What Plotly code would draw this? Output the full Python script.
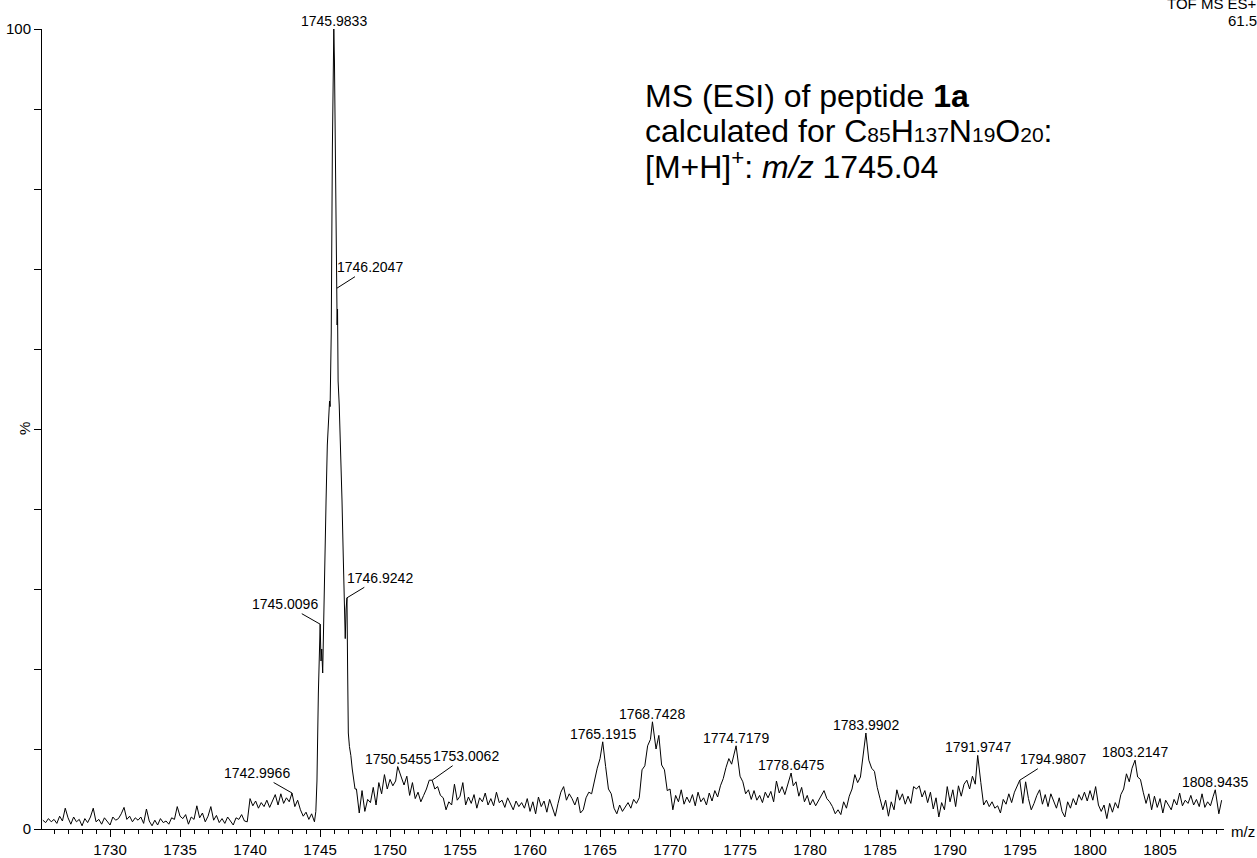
import plotly.graph_objects as go

# ---------------------------------------------------------------------------
# Spectrum data (relative intensity, %)
# ---------------------------------------------------------------------------
MZ_STEP = 0.2

# profile sampled every 0.2 m/z from 1725.2 to 1744.6
LOW_START = 1725.2
INT_LOW = [
    1.1, 0.8, 1.3, 0.9, 1.2, 0.7, 1.6, 1.0, 2.6, 1.4, 0.6, 1.5, 0.9, 1.2, 0.4, 1.3, 0.8, 1.5, 2.6, 0.9,
    1.2, 0.6, 1.4, 1.0, 0.5, 1.5, 1.1, 1.3, 1.9, 2.7, 1.2, 1.6, 0.9, 1.4, 1.1, 1.5, 0.7, 2.5, 1.0, 0.4,
    1.1, 0.5, 1.3, 0.8, 1.0, 0.6, 1.4, 1.2, 2.8, 1.6, 1.3, 1.8, 0.6, 1.5, 1.2, 2.9, 1.4, 2.0, 0.9, 1.6,
    2.8, 1.1, 1.7, 0.8, 1.3, 0.7, 1.5, 1.0, 0.5, 1.4, 1.2, 1.8, 1.0, 0.9, 3.8, 2.9, 3.5, 2.6, 3.3, 2.8,
    3.6, 2.7, 3.4, 4.3, 3.0, 4.4, 3.2, 3.9, 3.4, 4.6, 2.8, 3.6, 2.4, 1.6, 2.1, 1.2, 1.9, 0.9,
]

# main isotope cluster, sampled more finely
MAIN_MZ = [
    1744.70, 1744.78, 1744.88, 1744.96, 1745.07, 1745.12, 1745.19, 1745.25, 1745.33,
    1745.43, 1745.52, 1745.62, 1745.68, 1745.72, 1745.80, 1745.88, 1745.94, 1746.03,
    1746.09, 1746.15, 1746.22, 1746.25, 1746.29, 1746.37, 1746.48, 1746.57, 1746.66,
    1746.74, 1746.80, 1746.86, 1746.97, 1747.02, 1747.10, 1747.20, 1747.30, 1747.40,
    1747.50,
]
MAIN_INT = [
    2.2, 6.0, 17.0, 23.5, 21.0, 22.5, 19.5, 26.0, 35.0,
    41.0, 48.0, 52.5, 53.5, 52.8, 62.0, 85.0, 98.0, 96.0,
    84.0, 72.0, 63.0, 65.0, 56.0, 53.0, 47.7, 41.0, 34.0,
    28.5, 23.8, 27.5, 20.0, 12.0, 10.3, 9.2, 7.5, 6.0,
    5.0,
]

# profile sampled every 0.2 m/z from 1747.6 to 1809.4
HIGH_START = 1747.6
INT_HIGH = [
    5.0, 2.0, 4.8, 2.2, 3.7, 3.3, 5.2, 3.0, 5.8, 4.4, 6.8, 5.0, 6.2, 5.4, 6.0, 5.0, 6.5, 5.5, 6.6, 4.2,
    5.8, 3.8, 4.6, 3.4, 4.2, 5.0, 6.1, 5.6, 5.0, 5.3, 4.2, 3.9, 2.4, 3.4, 3.0, 5.6, 3.6, 4.1, 5.8, 3.0,
    4.0, 3.2, 4.3, 2.6, 3.9, 3.4, 4.5, 3.0, 3.8, 2.9, 4.6, 3.3, 3.6, 2.7, 3.9, 3.1, 2.4, 3.5, 2.8, 3.3,
    2.6, 3.8, 2.2, 3.4, 1.9, 4.0, 2.8, 3.5, 2.1, 3.7, 2.5, 1.6, 3.2, 4.6, 5.3, 3.6, 4.4, 3.8, 3.0, 4.0,
    2.0, 2.4, 3.9, 4.6, 4.4, 6.2, 7.6, 8.8, 10.9, 7.8, 5.0, 4.4, 2.6, 1.9, 3.0, 2.2, 2.8, 3.3, 2.6, 3.7,
    3.2, 3.9, 7.4, 7.9, 10.4, 11.2, 13.5, 10.0, 11.7, 8.0, 7.4, 4.8, 5.0, 2.4, 4.2, 3.4, 4.9, 3.1, 4.0, 3.3,
    4.3, 2.9, 4.6, 3.4, 3.9, 3.0, 4.5, 3.5, 4.8, 4.0, 5.4, 6.3, 7.7, 8.8, 8.1, 9.6, 8.2, 6.6, 5.9, 4.4,
    4.9, 3.7, 4.8, 3.6, 4.2, 3.3, 4.6, 3.9, 4.7, 3.4, 6.0, 4.5, 5.3, 4.3, 5.6, 6.6, 5.4, 5.9, 4.1, 5.2,
    3.4, 4.2, 3.0, 3.7, 2.9, 3.6, 4.2, 4.8, 3.8, 3.4, 2.8, 1.9, 2.4, 1.8, 3.4, 2.6, 4.1, 5.0, 6.8, 5.8,
    6.5, 9.1, 11.0, 8.6, 7.6, 7.2, 5.2, 3.8, 2.4, 3.6, 1.6, 3.4, 2.4, 4.9, 3.6, 4.4, 3.1, 4.1, 3.2, 5.3,
    5.0, 5.4, 4.0, 4.8, 3.3, 4.6, 2.5, 3.9, 1.5, 3.3, 2.4, 5.3, 3.4, 4.9, 2.8, 5.4, 4.1, 5.6, 6.1, 5.0,
    6.6, 5.6, 8.2, 5.8, 3.0, 3.6, 2.8, 3.4, 2.6, 2.9, 2.0, 3.7, 3.1, 4.4, 3.3, 4.6, 5.5, 4.3, 3.2, 5.9,
    3.8, 2.4, 3.2, 4.2, 4.9, 3.1, 4.3, 2.8, 4.4, 3.4, 2.6, 3.9, 2.2, 1.5, 3.4, 2.6, 3.8, 3.0, 4.3, 3.6,
    4.6, 3.5, 4.8, 3.6, 5.3, 3.0, 2.2, 3.0, 1.3, 3.2, 2.1, 3.3, 2.6, 4.3, 5.0, 6.9, 5.9, 7.6, 8.0, 6.5,
    6.2, 4.6, 3.2, 4.4, 2.4, 4.1, 2.7, 3.8, 2.0, 3.6, 2.9, 2.4, 3.7, 3.0, 4.5, 2.9, 3.6, 3.2, 4.2, 3.0,
    3.7, 2.8, 4.4, 2.7, 3.4, 2.9, 4.1, 3.2, 1.9, 3.6,
]

# labelled centroids
PEAK_MZ = [1742.9966, 1745.0096, 1745.9833, 1746.2047, 1746.9242, 1750.5455, 1753.0062,
           1765.1915, 1768.7428, 1774.7179, 1778.6475, 1783.9902, 1791.9747, 1794.9807,
           1803.2147, 1808.9435]
PEAK_INT = [4.5, 25.6, 100.0, 67.6, 28.9, 7.8, 6.1,
            10.9, 13.4, 10.4, 7.0, 12.0, 9.2, 6.1,
            8.6, 4.9]
PEAK_LABELS = ["%.4f" % m for m in PEAK_MZ]

# label offsets (pixels) for labels drawn with a leader line
LEADER_OFFSETS = {
    1742.9966: (-35, -20),
    1745.0096: (-35, -20),
    1746.2047: (33, -21),
    1746.9242: (33, -20),
    1753.0062: (34, -24),
    1794.9807: (33, -21),
}

X_TICKS = list(range(1730, 1810, 5))
Y_TICKS = list(range(0, 101, 10))
Y_TICKTEXT = ["0"] + [""] * 9 + ["100"]

# ---------------------------------------------------------------------------
# Assemble the profile
# ---------------------------------------------------------------------------
pts = []
for i, v in enumerate(INT_LOW):
    pts.append((round(LOW_START + i * MZ_STEP, 4), v))
for m, v in zip(MAIN_MZ, MAIN_INT):
    pts.append((m, v))
for i, v in enumerate(INT_HIGH):
    pts.append((round(HIGH_START + i * MZ_STEP, 4), v))
# drop samples right next to a centroid, then add the centroids themselves
pts = [p for p in pts if all(abs(p[0] - m) >= 0.1 for m in PEAK_MZ if not 1744.7 < m < 1747.5)
       or 1744.7 <= p[0] <= 1747.5]
pts += list(zip(PEAK_MZ, PEAK_INT))
pts.sort()
mz = [p[0] for p in pts]
inten = [p[1] for p in pts]

# ---------------------------------------------------------------------------
# Figure
# ---------------------------------------------------------------------------
W, H = 1257, 858
ML, MR, MT, MB = 42, 33, 29, 29
PW, PH = W - ML - MR, H - MT - MB
X0 = 1725.14
X1 = X0 + PW / 14.0

SANS = "Liberation Sans, Arial, sans-serif"
LABEL_SIZE = 14
AXIS_SIZE = 15


def px_x(px):
    return (px - ML) / PW


def px_y(py):
    return (H - MB - py) / PH


fig = go.Figure()
fig.add_trace(go.Scatter(x=mz, y=inten, mode="lines",
                         line=dict(color="black", width=1), hoverinfo="skip"))

annotations = []
for m, v, t in zip(PEAK_MZ, PEAK_INT, PEAK_LABELS):
    if m in LEADER_OFFSETS:
        ax, ay = LEADER_OFFSETS[m]
        annotations.append(dict(x=m, y=v, text=t, showarrow=True, arrowhead=0,
                                arrowwidth=1, arrowcolor="black", ax=ax, ay=ay,
                                standoff=0, font=dict(family=SANS, size=LABEL_SIZE, color="black")))
    else:
        annotations.append(dict(x=m, y=v, text=t, showarrow=False, yanchor="bottom",
                                xanchor="center", yshift=-2,
                                font=dict(family=SANS, size=LABEL_SIZE, color="black")))

# description block
SUB = "<span style='font-size:21px'>%s</span>"
desc = [
    ("MS (ESI) of peptide <b>1a</b>", 96),
    ("calculated for C" + SUB % "85" + "H" + SUB % "137" + "N" + SUB % "19"
     + "O" + SUB % "20" + ":", 131),
    ("[M+H]<sup>+</sup>: <i>m/z</i> 1745.04", 165),
]
for txt, py in desc:
    annotations.append(dict(xref="paper", yref="paper", x=px_x(643), y=px_y(py),
                            xanchor="left", yanchor="middle", text=txt, showarrow=False,
                            font=dict(family=SANS, size=32, color="black")))

# header, axis captions
annotations += [
    dict(xref="paper", yref="paper", x=px_x(1259), y=px_y(3), xanchor="right",
         yanchor="middle", text="TOF MS ES+", showarrow=False,
         font=dict(family=SANS, size=AXIS_SIZE, color="black")),
    dict(xref="paper", yref="paper", x=px_x(1259), y=px_y(20), xanchor="right",
         yanchor="middle", text="61.5", showarrow=False,
         font=dict(family=SANS, size=AXIS_SIZE, color="black")),
    dict(xref="paper", yref="paper", x=px_x(1229), y=px_y(831), xanchor="left",
         yanchor="middle", text="m/z", showarrow=False,
         font=dict(family=SANS, size=AXIS_SIZE, color="black")),
    dict(xref="paper", yref="paper", x=px_x(24), y=px_y(429), xanchor="center",
         yanchor="middle", text="%", textangle=-90, showarrow=False,
         font=dict(family=SANS, size=AXIS_SIZE, color="black")),
]

fig.update_layout(
    width=W, height=H,
    margin=dict(l=ML, r=MR, t=MT, b=MB, pad=0, autoexpand=False),
    paper_bgcolor="white", plot_bgcolor="white",
    showlegend=False,
    annotations=annotations,
    xaxis=dict(range=[X0, X1], showline=True, linecolor="black", linewidth=1,
               automargin=False,
               ticks="outside", tickvals=X_TICKS, ticklen=7, tickcolor="black",
               tickfont=dict(family=SANS, size=AXIS_SIZE, color="black"),
               showgrid=False, zeroline=False,
               minor=dict(dtick=1, tick0=1730, ticks="outside", ticklen=4,
                          tickcolor="black", showgrid=False)),
    yaxis=dict(range=[0, 100], showline=True, linecolor="black", linewidth=1,
               automargin=False,
               ticks="outside", tickvals=Y_TICKS, ticktext=Y_TICKTEXT, ticklen=7,
               tickcolor="black", tickfont=dict(family=SANS, size=AXIS_SIZE, color="black"),
               showgrid=False, zeroline=False),
)

fig.write_html("out.html")
